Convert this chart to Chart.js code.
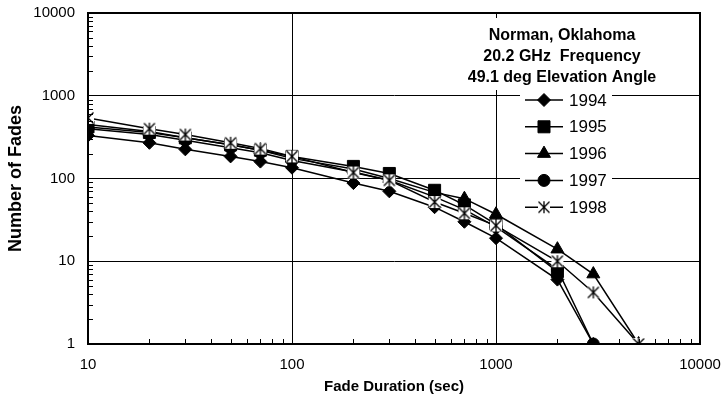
<!DOCTYPE html>
<html>
<head>
<meta charset="utf-8">
<script src="https://cdn.jsdelivr.net/npm/chart.js@4.4.0/dist/chart.umd.min.js"></script>
<style>
  body { margin: 0; background: #fff; }
  canvas { display: block; }
</style>
</head>
<body>
<canvas id="fadesChart" width="723" height="408"></canvas>
<script>
// fade durations (sec) and number of fades per year
const durations = [10, 20, 30, 50, 70, 100, 200, 300, 500, 700, 1000, 2000, 3000, 5000];
const fades1994 = [330, 270, 225, 185, 160, 135, 88, 70, 45, 30, 19, 6, 1, null];
const fades1995 = [420, 360, 310, 255, 220, 185, 140, 115, 72, 48, 28, 7.5, null, null];
const fades1996 = [450, 370, 310, 255, 220, 175, 130, 100, 68, 57, 37, 14, 7, 1];
const fades1997 = [400, 340, 290, 235, 205, 165, 120, 95, 60, 42, 26, 8, 1, null];
const fades1998 = [540, 400, 340, 270, 230, 185, 118, 95, 52, 38, 27, 10, 4.2, 1];
const yearLabels = ['1994', '1995', '1996', '1997', '1998'];
const xTicks = [10, 100, 1000, 10000];
const yTicks = [1, 10, 100, 1000, 10000];
const noteLines = ['Norman, Oklahoma', '20.2 GHz  Frequency', '49.1 deg Elevation Angle'];

const FONT = "'Liberation Sans', Arial, Helvetica, sans-serif";

// Excel style "star" marker: X plus a vertical bar on a white square
function makeStar() {
    const c = document.createElement('canvas');
    c.width = 14; c.height = 14;
    const g = c.getContext('2d');
    g.fillStyle = '#fff';
    g.fillRect(1, 1, 12, 12);
    g.strokeStyle = '#000';
    g.lineWidth = 1.3;
    g.beginPath();
    g.moveTo(1.5, 1.5); g.lineTo(12.5, 12.5);
    g.moveTo(12.5, 1.5); g.lineTo(1.5, 12.5);
    g.moveTo(7, 1); g.lineTo(7, 13);
    g.stroke();
    return c;
}
const starMarker = makeStar();

function toPoints(vals) {
    return durations.map((d, i) => ({ x: d, y: vals[i] }));
}

const seriesStyles = [
    { style: 'rectRot', radius: 6.5 },
    { style: 'rect', radius: 8.5 },
    { style: 'triangle', radius: 7.5 },
    { style: 'circle', radius: 6 },
    { style: starMarker, radius: 7 }
];
const seriesValues = [fades1994, fades1995, fades1996, fades1997, fades1998];

const datasets = seriesValues.map((vals, i) => ({
    label: yearLabels[i],
    data: toPoints(vals),
    borderColor: '#000',
    backgroundColor: '#000',
    borderWidth: 1.5,
    pointStyle: seriesStyles[i].style,
    pointRadius: seriesStyles[i].radius,
    pointBackgroundColor: '#000',
    pointBorderColor: '#000',
    pointBorderWidth: 1,
    order: 4 - i
}));

// minor ticks, plot frame, text box and legend drawn on top of the plot area
const extrasPlugin = {
    id: 'extras',
    afterDraw(chart) {
        const ctx = chart.ctx;
        const area = chart.chartArea;
        const xs = chart.scales.x;
        const ys = chart.scales.y;
        ctx.save();

        // minor ticks pointing inward
        ctx.strokeStyle = '#000';
        ctx.lineWidth = 1;
        ctx.beginPath();
        for (let p = 1; p < 10000; p *= 10) {
            for (let m = 2; m <= 9; m++) {
                const px = Math.round(xs.getPixelForValue(m * p * 10)) + 0.5;
                if (m * p * 10 < 10000) {
                    ctx.moveTo(px, area.bottom);
                    ctx.lineTo(px, area.bottom - 5);
                }
                const py = Math.round(ys.getPixelForValue(m * p)) + 0.5;
                ctx.moveTo(area.left, py);
                ctx.lineTo(area.left + 5, py);
            }
        }
        ctx.stroke();

        // frame
        ctx.lineWidth = 2;
        ctx.strokeRect(area.left, area.top, area.right - area.left, area.bottom - area.top);

        // text box
        ctx.fillStyle = '#fff';
        ctx.fillRect(480, 18, 166, 72);
        ctx.fillStyle = '#000';
        ctx.font = 'bold 16px ' + FONT;
        ctx.textAlign = 'center';
        ctx.textBaseline = 'alphabetic';
        noteLines.forEach((t, i) => ctx.fillText(t, 562, 40 + i * 21));

        // legend
        ctx.fillStyle = '#fff';
        ctx.fillRect(520, 88, 92, 132);
        ctx.font = '17px ' + FONT;
        ctx.textAlign = 'left';
        ctx.textBaseline = 'middle';
        yearLabels.forEach((lab, i) => {
            const y = 100 + i * 26.8;
            ctx.strokeStyle = '#000';
            ctx.lineWidth = 1.5;
            ctx.beginPath();
            ctx.moveTo(525, y);
            ctx.lineTo(563, y);
            ctx.stroke();
            ctx.fillStyle = '#000';
            ctx.lineWidth = 1;
            Chart.helpers.drawPoint(ctx, {
                pointStyle: seriesStyles[i].style,
                radius: seriesStyles[i].radius,
                rotation: 0,
                borderWidth: 1
            }, 544, y);
            ctx.fillStyle = '#000';
            ctx.fillText(lab, 569, y + 1);
        });
        ctx.restore();
    }
};

const ctx = document.getElementById('fadesChart').getContext('2d');
new Chart(ctx, {
    type: 'line',
    data: { datasets: datasets },
    options: {
        responsive: false,
        animation: false,
        layout: { padding: { top: 13, right: 23, left: 0, bottom: 0 } },
        plugins: { legend: { display: false }, tooltip: { enabled: false } },
        scales: {
            x: {
                type: 'logarithmic',
                min: 10,
                max: 10000,
                afterBuildTicks: scale => { scale.ticks = xTicks.map(v => ({ value: v })); },
                afterFit: scale => {
                    scale.height = 64;
                    scale.paddingLeft = 0;
                    scale.paddingRight = 0;
                },
                ticks: {
                    color: '#000',
                    font: { family: FONT, size: 15 },
                    padding: 12,
                    maxRotation: 0,
                    callback: v => String(v)
                },
                grid: { color: '#000', lineWidth: 1, drawTicks: false },
                border: { display: true, color: '#000', width: 2 },
                title: {
                    display: true,
                    text: 'Fade Duration (sec)',
                    color: '#000',
                    font: { family: FONT, size: 15, weight: 'bold' },
                    padding: { top: 0, bottom: 12 }
                }
            },
            y: {
                type: 'logarithmic',
                min: 1,
                max: 10000,
                afterBuildTicks: scale => { scale.ticks = yTicks.map(v => ({ value: v })); },
                afterFit: scale => {
                    scale.width = 88;
                    scale.paddingTop = 0;
                    scale.paddingBottom = 0;
                },
                ticks: {
                    color: '#000',
                    font: { family: FONT, size: 15 },
                    padding: 13,
                    callback: v => String(v)
                },
                grid: { color: '#000', lineWidth: 1, drawTicks: false },
                border: { display: true, color: '#000', width: 2 },
                title: {
                    display: true,
                    text: 'Number of Fades',
                    color: '#000',
                    font: { family: FONT, size: 18, weight: 'bold' },
                    padding: { top: 5, bottom: 0 }
                }
            }
        }
    },
    plugins: [extrasPlugin]
});
</script>
</body>
</html>
